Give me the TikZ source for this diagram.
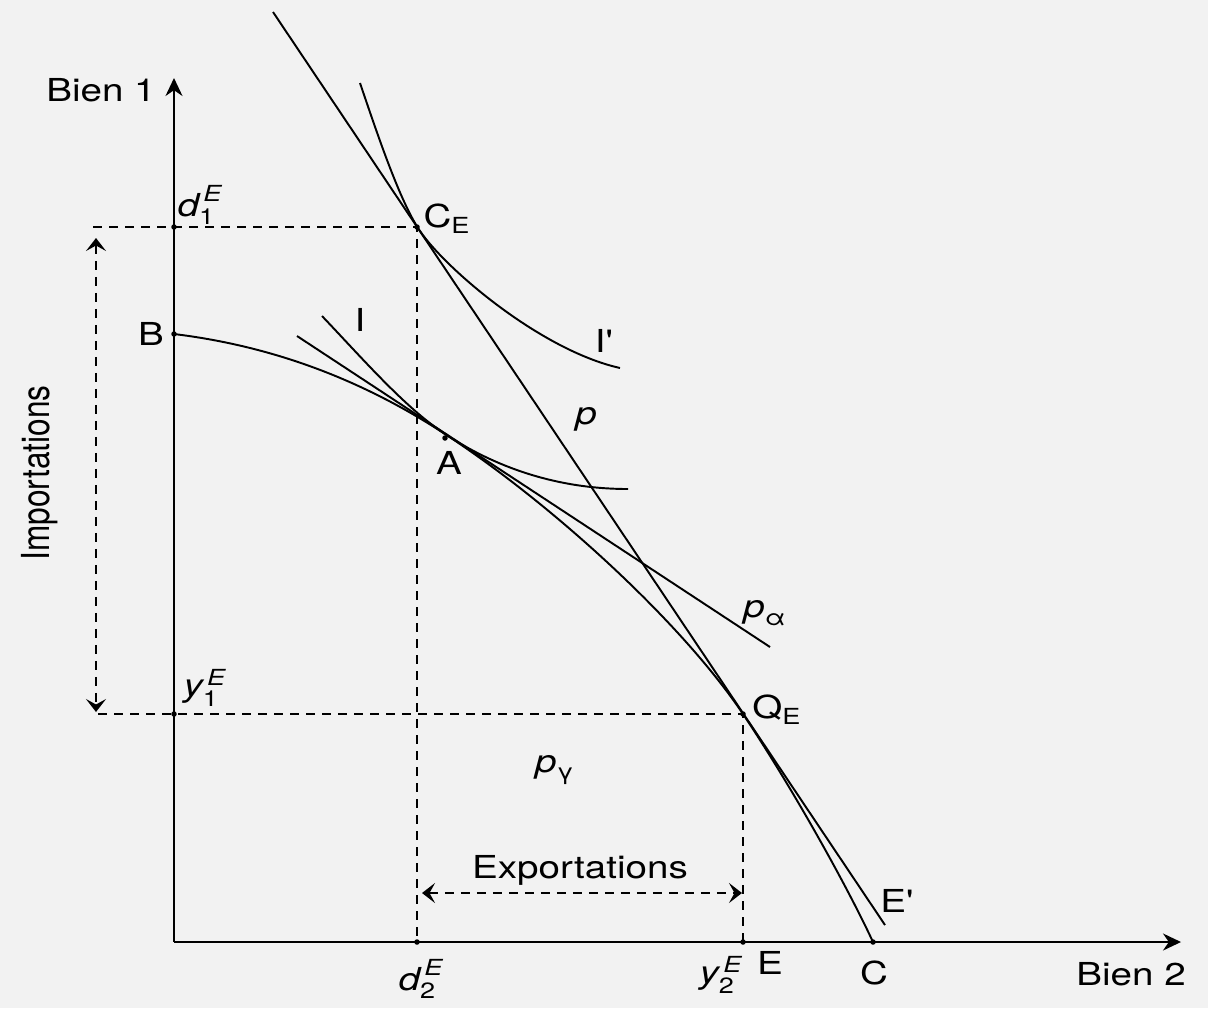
\documentclass[tikz,border=0pt]{standalone}
\usepackage{amsmath}
\usepackage{graphicx}
\usepackage{fontspec}
\setmainfont{TeX Gyre Heros}
\usepackage{tikz}
\usetikzlibrary{arrows.meta}
\newcommand{\lar}[1]{\scalebox{1.22}[1]{#1}}

\begin{document}
\begin{tikzpicture}[
  x=0.2mm, y=-0.2mm,
  line width=1.1pt,
  every node/.style={inner sep=1pt, font=\fontsize{18}{21}\selectfont},
  axe/.style={-{Stealth[length=3.6mm,width=3.4mm]}},
  pointille/.style={dash pattern=on 1.8mm off 1.4mm, line width=1.2pt},
  fleche/.style={pointille, {Stealth[length=2.6mm,width=4mm,inset=1.1mm]}-{Stealth[length=2.6mm,width=4mm,inset=1.1mm]}},
  courbe/.style={line width=1.1pt}
]
% fond du scan
\fill[black!5] (0,0) rectangle (1208,1008);

% Points (x = pixel, y = pixel depuis le haut)
\coordinate (O)    at (174,942);
\coordinate (Y)    at (174,78);
\coordinate (X)    at (1181,942);
\coordinate (d1E)  at (174,227);
\coordinate (B)    at (174,334);
\coordinate (y1E)  at (174,714);
\coordinate (CE)   at (417,227);
\coordinate (A)    at (445,438);
\coordinate (TA)   at (445,434);
\coordinate (QE)   at (743,714);
\coordinate (d2E)  at (417,942);
\coordinate (E)    at (743,942);
\coordinate (C)    at (873,942);
\coordinate (pTop) at (273,12);
\coordinate (pEnd) at (885,925);
\coordinate (pa1)  at (297,336);
\coordinate (pa2)  at (770,647);
\coordinate (I1)   at (322,316);
\coordinate (I2)   at (628,489);
\coordinate (J1)   at (360,83);
\coordinate (TC)   at (420,231);
\coordinate (J2)   at (620,368);
\coordinate (impA) at (96,238);
\coordinate (impB) at (96,712);
\coordinate (dA)   at (93,227);
\coordinate (dB)   at (98,714);
\coordinate (exA)  at (422,893);
\coordinate (exB)  at (742,893);

% Labels
\node (bien1) at (101,90)   {\lar{Bien 1}};
\node (bien2) at (1131,974) {\lar{Bien 2}};
\node (lB)    at (151,334)  {\lar{B}};
\node (ld1)   at (200,205)  {\lar{$\textit{d}^{\,\textit{E}}_{\text{1}}$}};
\node (ly1)   at (205,688)  {\lar{$\textit{y}^{\,\textit{E}}_{\text{1}}$}};
\node (ld2)   at (421,979)  {\lar{$\textit{d}^{\,\textit{E}}_{\text{2}}$}};
\node (ly2)   at (721,975)  {\lar{$\textit{y}^{\,\textit{E}}_{\text{2}}$}};
\node (lCE)   at (447,219)  {\lar{C$_{\text{E}}$}};
\node (lQE)   at (777,710)  {\lar{Q$_{\text{E}}$}};
\node (lI)    at (360,320)  {\lar{I}};
\node (lIp)   at (604,341)  {\lar{I\textquotesingle}};
\node (lA)    at (449,463)  {\lar{A}};
\node (lp)    at (586,419)  {\lar{\textit{p}}};
\node (lpa)   at (765,613)  {\lar{$\textit{p}_{\text{α}}$}};
\node (lpg)   at (555,770)  {\lar{$\textit{p}_{\text{γ}}$}};
\node (lE)    at (770,963)  {\lar{E}};
\node (lEp)   at (897,901)  {\lar{E\textquotesingle}};
\node (lC)    at (874,973)  {\lar{C}};
\node (lexp)  at (580,870)  {\lar{Exportations}};
\node[rotate=90] (limp) at (40,473) {\scalebox{1}[1.22]{Importations}};

% Axes
\draw[axe] (O) -- (Y);
\draw[axe] (O) -- (X);

% Frontiere BC
\draw[courbe] (B) .. controls (264,345) and (355,375) .. (TA)
  .. controls (555,506) and (683,624.4) .. (QE)
  .. controls (793,788.7) and (848,888) .. (C);

% Courbes d'indifference
\draw[courbe] (I1) .. controls (362,358) and (405,407.7) .. (TA)
  .. controls (505,473.5) and (568,489) .. (I2);
\draw[courbe] (J1) .. controls (377,133) and (400,202) .. (TC)
  .. controls (445,268) and (540,350) .. (J2);

% Droites de prix
\draw (pTop) -- (pEnd);
\draw (pa1) -- (pa2);

% Pointilles
\draw[pointille] (dA) -- (CE) -- (d2E);
\draw[pointille] (dB) -- (QE) -- (E);
\draw[fleche] (impA) -- (impB);
\draw[fleche] (exA) -- (exB);

% Points
\foreach \p in {d1E,B,y1E,CE,A,QE,d2E,E,C}
  \fill (\p) circle (0.55mm);
\end{tikzpicture}
\end{document}
